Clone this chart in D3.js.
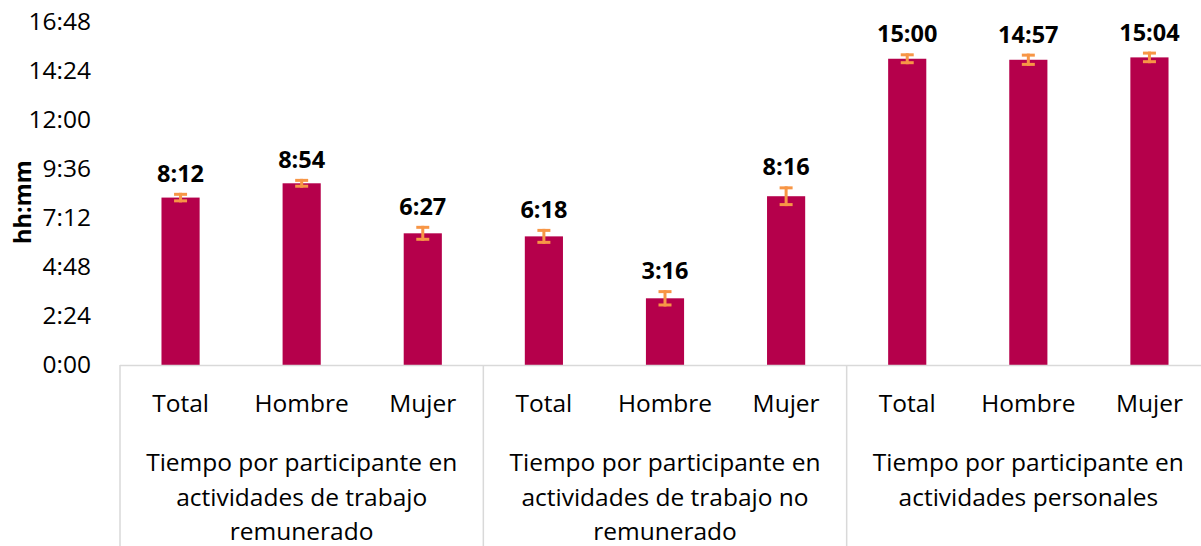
<!DOCTYPE html>
<meta charset="utf-8">
<style>
body { margin: 0; background: #fff; }
text { font-family: "Open Sans", "Noto Sans", sans-serif; fill: #000; }
.tick text { font-size: 24.5px; }
.label { font-size: 23.5px; font-weight: bold; }
.cat { font-size: 24.5px; }
</style>
<svg width="1201" height="546"></svg>
<script src="https://d3js.org/d3.v7.min.js"></script>
<script>

// values in minutes
var groups = [
  ["Tiempo por participante en", "actividades de trabajo", "remunerado"],
  ["Tiempo por participante en", "actividades de trabajo no", "remunerado"],
  ["Tiempo por participante en", "actividades personales"]
];
var sexes = ["Total", "Hombre", "Mujer"];
var minutes = [492, 534, 387, 378, 196, 496, 900, 897, 904];
var errors = [14, 13, 22, 22, 24, 29, 16, 18, 17];
var yTicks = [0, 144, 288, 432, 576, 720, 864, 1008];

function hhmm(m) {
  var h = Math.floor(m / 60), r = Math.round(m % 60);
  return h + ":" + (r < 10 ? "0" : "") + r;
}

var svg = d3.select("svg");

var x = d3.scaleBand().domain(d3.range(minutes.length)).range([120, 1210]),
    y = d3.scaleLinear().domain([0, 1008]).range([365, 22]);

var barW = x.bandwidth() * 0.315;

// y axis
svg.append("g")
    .attr("transform", "translate(100,0)")
    .call(d3.axisLeft(y).tickValues(yTicks).tickFormat(hhmm).tickSize(0).tickPadding(9))
    .call(function(g) { g.select(".domain").remove(); })
    .selectAll("text")
      .attr("fill", "#000");

svg.append("text")
    .attr("transform", "translate(31,202) rotate(-90)")
    .attr("text-anchor", "middle")
    .attr("font-weight", "bold")
    .style("font-size", "23.5px")
    .text("hh:mm");

// bars
svg.selectAll(".bar")
  .data(minutes)
  .enter().append("rect")
    .attr("class", "bar")
    .attr("fill", "#b5004b")
    .attr("x", function(d, i) { return x(i) + x.bandwidth() / 2 - barW / 2; })
    .attr("y", function(d) { return y(d); })
    .attr("width", barW)
    .attr("height", function(d) { return y(0) - y(d); });

// error bars
var eb = svg.selectAll(".err")
  .data(minutes)
  .enter().append("g")
    .attr("class", "err")
    .attr("stroke", "#f79646")
    .attr("stroke-width", 3)
    .attr("transform", function(d, i) { return "translate(" + (x(i) + x.bandwidth() / 2) + ",0)"; });

eb.append("line")
    .attr("y1", function(d, i) { return y(d + errors[i]); })
    .attr("y2", function(d, i) { return y(d - errors[i]); });
eb.append("line")
    .attr("x1", -6.5).attr("x2", 6.5)
    .attr("y1", function(d, i) { return y(d + errors[i]) + 1.5; })
    .attr("y2", function(d, i) { return y(d + errors[i]) + 1.5; });
eb.append("line")
    .attr("x1", -6.5).attr("x2", 6.5)
    .attr("y1", function(d, i) { return y(d - errors[i]) - 1.5; })
    .attr("y2", function(d, i) { return y(d - errors[i]) - 1.5; });

// value labels
svg.selectAll(".label")
  .data(minutes)
  .enter().append("text")
    .attr("class", "label")
    .attr("text-anchor", "middle")
    .attr("x", function(d, i) { return x(i) + x.bandwidth() / 2; })
    .attr("y", function(d, i) { return y(d + errors[i]) - 11; })
    .text(hhmm);

// category axis
var axis = svg.append("g")
    .attr("stroke", "#d9d9d9")
    .attr("stroke-width", 1.5);

axis.append("line")
    .attr("x1", x.range()[0]).attr("x2", x.range()[1])
    .attr("y1", y(0) + 0.5).attr("y2", y(0) + 0.5);

axis.selectAll(".div")
  .data(d3.range(groups.length + 1))
  .enter().append("line")
    .attr("x1", function(g) { return x.range()[0] + g * 3 * x.step(); })
    .attr("x2", function(g) { return x.range()[0] + g * 3 * x.step(); })
    .attr("y1", y(0))
    .attr("y2", 546);

svg.selectAll(".cat")
  .data(minutes)
  .enter().append("text")
    .attr("class", "cat")
    .attr("text-anchor", "middle")
    .attr("x", function(d, i) { return x(i) + x.bandwidth() / 2; })
    .attr("y", 411.5)
    .text(function(d, i) { return sexes[i % 3]; });

groups.forEach(function(lines, g) {
  var cx = x.range()[0] + (g * 3 + 1.5) * x.step();
  var t = svg.append("text")
      .attr("class", "cat")
      .attr("text-anchor", "middle")
      .attr("x", cx)
      .attr("y", 471);
  lines.forEach(function(s, k) {
    t.append("tspan")
        .attr("x", cx)
        .attr("dy", k ? 34.5 : 0)
        .text(s);
  });
});

</script>
